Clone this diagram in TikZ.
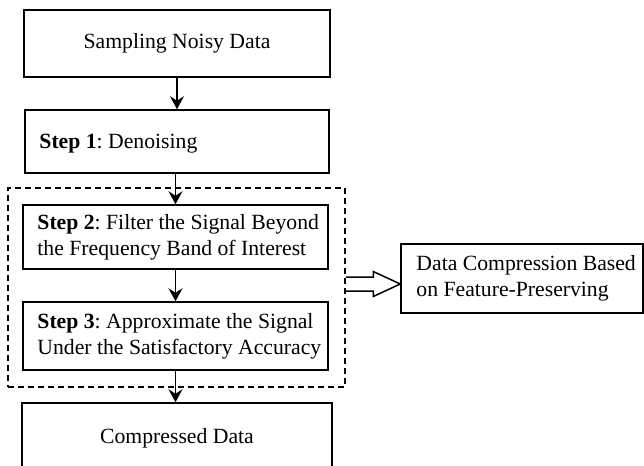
\documentclass[tikz,border=0pt]{standalone}
\usepackage{fontspec}
\setmainfont{Liberation Serif}
\usetikzlibrary{arrows.meta,calc}
\begin{document}
\frenchspacing
\begin{tikzpicture}[x=1pt,y=-1pt,
  every node/.style={font=\fontsize{21.7}{26}\selectfont},
  box/.style={draw,line width=1.5pt,rectangle,inner sep=0pt},
  txt/.style={anchor=west,align=left,inner sep=0pt},
  arr/.style={line width=1.5pt,-{Stealth[length=13pt,width=14pt,inset=4.5pt]}},
  grpbox/.style={draw,line width=1.5pt,dash pattern=on 6pt off 4pt,inner sep=0pt}]
\clip (0,0) rectangle (644,465);
\useasboundingbox (0,0) rectangle (644,465);
\node[box,minimum width=306pt,minimum height=67pt] (b1) at (177,43.5) {Sampling Noisy Data};
\node[box,minimum width=304pt,minimum height=63pt] (b2) at (177,141.5) {};
\node[txt] (t2) at ([xshift=15pt,yshift=-2pt]b2.west) {\textbf{Step 1}: Denoising};
\node[grpbox,minimum width=337pt,minimum height=199pt] (grp) at (176.5,287.5) {};
\node[box,minimum width=305pt,minimum height=64pt] (b3) at (175.5,237) {};
\node[txt] (t3) at ([xshift=15pt]b3.west) {\textbf{Step 2}: Filter the Signal Beyond\\the Frequency Band of Interest};
\node[box,minimum width=305pt,minimum height=68pt] (b4) at (175.5,336) {};
\node[txt] (t4) at ([xshift=15pt]b4.west) {\textbf{Step 3}: Approximate the Signal\\Under the Satisfactory Accuracy};
\node[box,minimum width=310pt,minimum height=70pt] (b5) at (177,438) {Compressed Data};
\node[box,minimum width=242pt,minimum height=69pt] (rb) at (522,278.5) {};
\node[txt] (tr) at ([xshift=16pt]rb.west) {Data Compression Based\\on Feature-Preserving};
\draw[arr] (b1.south) -- (b2.north);
\draw[arr] (b2.south -| b3.north) -- (b3.north);
\draw[arr] (b3.south) -- (b4.north);
\draw[arr] (b4.south) -- (b4.south |- b5.north);
\coordinate (ha) at ([yshift=3.5pt]grp.east);
\coordinate (hb) at (rb.west |- ha);
\draw[line width=1.5pt,line join=miter]
  ([yshift=7pt]ha) -- ([xshift=-27pt,yshift=7pt]hb) -- ([xshift=-27pt,yshift=12.5pt]hb)
  -- (hb) -- ([xshift=-27pt,yshift=-12.5pt]hb) -- ([xshift=-27pt,yshift=-7pt]hb)
  -- ([yshift=-7pt]ha);
\end{tikzpicture}
\end{document}
